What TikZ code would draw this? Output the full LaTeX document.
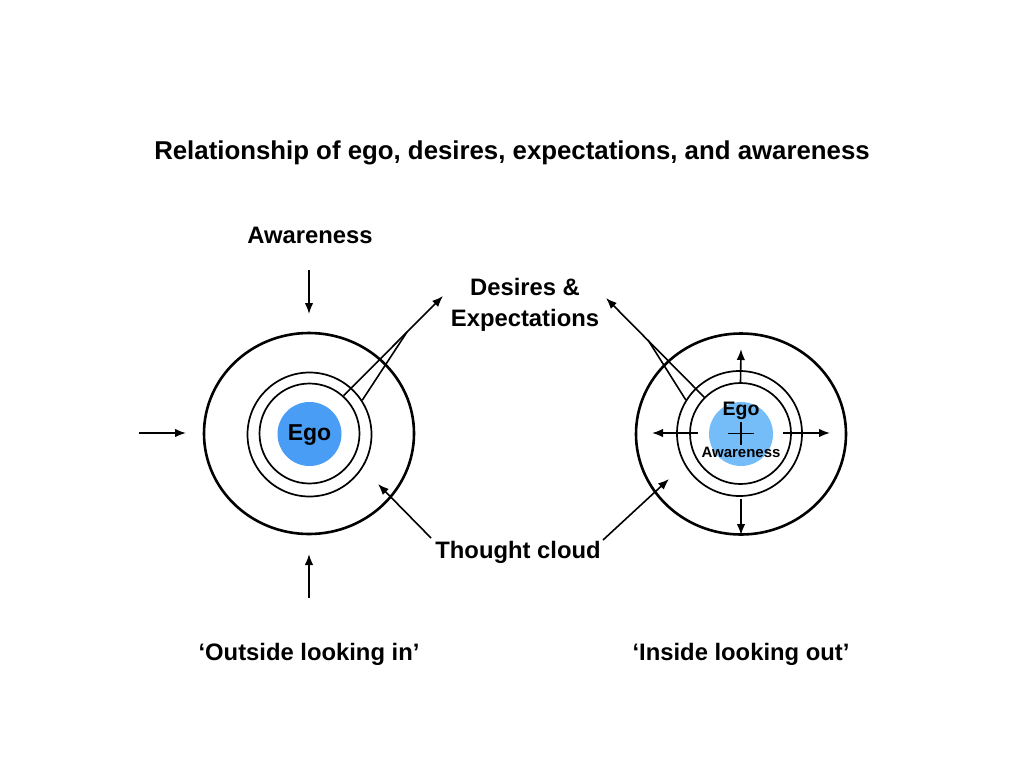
\documentclass[tikz,border=0pt]{standalone}
\usepackage{fontspec}
\setmainfont{Liberation Sans}
\usetikzlibrary{arrows.meta,shapes.geometric}
\definecolor{egoblue}{RGB}{74,157,245}
\definecolor{egolight}{RGB}{117,189,249}
\tikzset{
  lbl/.style={font=\fontsize{23.8}{27}\selectfont\bfseries, inner sep=0pt, align=center},
  outerring/.style={draw, ellipse, line width=2.6pt, inner sep=0pt, minimum width=210pt, minimum height=201pt},
  ring/.style={draw, circle, line width=1.7pt, inner sep=0pt, minimum size=#1},
  disc/.style={circle, fill=#1, inner sep=0pt, minimum size=64pt},
  arr/.style={line width=1.6pt, -{Latex[length=11pt,width=8.5pt]}},
  ln/.style={line width=1.6pt}
}
\begin{document}
\begin{tikzpicture}[x=1pt,y=-1pt]
\useasboundingbox (0,0) rectangle (1024,768);
% title
\node[lbl, font=\fontsize{25.8}{30}\selectfont\bfseries] (title) at (512,153) {Relationship of ego, desires, expectations, and awareness};
% left figure
\node[outerring] (outL) at (309,433.5) {};
\node[ring=124pt] (midL) at (309.5,434.5) {};
\node[ring=100pt] (inL) at (309.5,433.5) {};
\node[disc=egoblue] (egoL) at (309.5,434) {};
\node[lbl, font=\fontsize{23}{26}\selectfont\bfseries] (egoLt) at (309.5,435) {Ego};
\node[lbl] (awL) at (310,235) {Awareness};
\coordinate (aTs) at (309,270); \coordinate (aTe) at (309,314);
\coordinate (aBs) at (309,598); \coordinate (aBe) at (309,554);
\coordinate (aLs) at (139,433); \coordinate (aLe) at (186,433);
\draw[arr] (aTs) -- (aTe);
\draw[arr] (aBs) -- (aBe);
\draw[arr] (aLs) -- (aLe);
% desires
\node[lbl] (des) at (525,305) {Desires \&\\[4pt]Expectations};
\coordinate (tipL) at (443,296);
\coordinate (jL) at (407,332);
\draw[arr] (inL.48) -- (tipL);
\draw[ln] (midL.33) -- (jL);
\coordinate (tipR) at (606,298);
\coordinate (jR) at (648,340);
% right figure
\node[outerring] (outR) at (741,434) {};
\node[ring=125pt] (midR) at (739.5,433.5) {};
\node[ring=101pt] (inR) at (740.5,433.5) {};
\node[disc=egolight] (egoR) at (741,434) {};
\node[font=\fontsize{19.5}{22}\selectfont\bfseries, inner sep=0pt] (egoRt) at (741,411) {Ego};
\node[font=\fontsize{15}{17}\selectfont\bfseries, inner sep=0pt] (awRt) at (741,452) {Awareness};
\coordinate (cxL) at (728,433.5); \coordinate (cxR) at (754,433.5);
\coordinate (cyT) at (741,422); \coordinate (cyB) at (741,445);
\draw[ln] (cxL) -- (cxR);
\draw[ln] (cyT) -- (cyB);
\coordinate (oLs) at (698,433); \coordinate (oLe) at (652,433);
\coordinate (oRs) at (783,433); \coordinate (oRe) at (830,433);
\coordinate (oBs) at (741,499); \coordinate (oBe) at (741,535);
\coordinate (oTe) at (741,349);
\draw[arr] (inR.north) -- (oTe);
\draw[arr] (oLs) -- (oLe);
\draw[arr] (oRs) -- (oRe);
\draw[arr] (oBs) -- (oBe);
\draw[arr] (inR.135) -- (tipR);
\draw[ln] (midR.148) -- (jR);
% thought cloud
\node[lbl] (tc) at (518,552) {Thought cloud};
\coordinate (tcLs) at (431,538); \coordinate (tcLe) at (378,484);
\coordinate (tcRs) at (603,540); \coordinate (tcRe) at (669,479);
\draw[arr] (tcLs) -- (tcLe);
\draw[arr] (tcRs) -- (tcRe);
% captions
\node[lbl] (capL) at (309,654) {‘Outside looking in’};
\node[lbl] (capR) at (741,654) {‘Inside looking out’};
\end{tikzpicture}
\end{document}
